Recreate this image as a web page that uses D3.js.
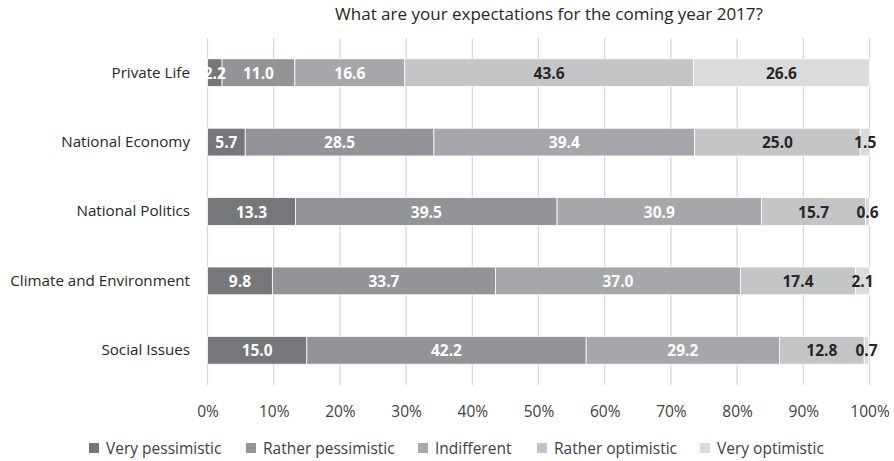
<!DOCTYPE html>
<html>
<head>
<meta charset="utf-8">
<script src="https://cdn.jsdelivr.net/npm/d3@7"></script>
<style>
  body { margin: 0; background: #fff; }
  svg { font-family: "Open Sans", sans-serif; }
</style>
</head>
<body>
<svg width="894" height="461"></svg>
<script>
const categories = ['Private Life', 'National Economy', 'National Politics', 'Climate and Environment', 'Social Issues']
const seriesNames = ['Very pessimistic', 'Rather pessimistic', 'Indifferent', 'Rather optimistic', 'Very optimistic']
const veryPessimistic = [2.2, 5.7, 13.3, 9.8, 15.0]
const ratherPessimistic = [11.0, 28.5, 39.5, 33.7, 42.2]
const indifferent = [16.6, 39.4, 30.9, 37.0, 29.2]
const ratherOptimistic = [43.6, 25.0, 15.7, 17.4, 12.8]
const veryOptimistic = [26.6, 1.5, 0.6, 2.1, 0.7]
const xTicks = [0, 10, 20, 30, 40, 50, 60, 70, 80, 90, 100]

const colors = ['#76777a', '#939497', '#a6a7aa', '#c4c5c7', '#dadbdd']
const labelColors = ['#fff', '#fff', '#fff', '#262626', '#262626']

let rows = categories.map((c, i) => ({
    category: c,
    'Very pessimistic': veryPessimistic[i],
    'Rather pessimistic': ratherPessimistic[i],
    'Indifferent': indifferent[i],
    'Rather optimistic': ratherOptimistic[i],
    'Very optimistic': veryOptimistic[i]
}))

let stacked = d3.stack().keys(seriesNames)(rows)

let svg = d3.select('svg')

let x = d3.scaleLinear().domain([0, 100]).range([207.5, 869.5])
let y = d3.scaleBand().domain(categories).range([38, 385]).paddingInner(0.6).paddingOuter(0.3)

// title
svg.append('text')
.attr('x', 549)
.attr('y', 15)
.attr('text-anchor', 'middle')
.attr('dominant-baseline', 'middle')
.style('font-size', '17px')
.style('fill', '#262626')
.text('What are your expectations for the coming year 2017?')

// gridlines
svg.append('g')
.selectAll('line')
.data(xTicks)
.enter()
.append('line')
.attr('x1', d => x(d))
.attr('x2', d => x(d))
.attr('y1', 38)
.attr('y2', 385)
.attr('stroke', '#d9d9d9')
.attr('stroke-width', 1.3)

// x tick labels
let xAxis = svg.append('g')
.attr('transform', 'translate(0,385)')
.call(d3.axisBottom(x).tickValues(xTicks).tickFormat(d => d + '%').tickSize(0).tickPadding(21))
xAxis.select('.domain').remove()
xAxis.selectAll('text')
.style('font-size', '15.5px')
.style('font-family', '"Open Sans", sans-serif')
.attr('fill', '#404040')

// category labels
let yAxis = svg.append('g')
.attr('transform', 'translate(190,0)')
.call(d3.axisLeft(y).tickSize(0).tickPadding(0))
yAxis.select('.domain').remove()
yAxis.selectAll('text')
.style('font-size', '15.2px')
.style('font-family', '"Open Sans", sans-serif')
.attr('fill', '#262626')

// bars
let layers = svg.append('g')
.selectAll('g')
.data(stacked)
.enter()
.append('g')
.attr('fill', (d, i) => colors[i])

layers.selectAll('rect')
.data(d => d)
.enter()
.append('rect')
.attr('x', d => x(d[0]))
.attr('y', d => y(d.data.category))
.attr('width', d => x(d[1]) - x(d[0]))
.attr('height', y.bandwidth())
.attr('stroke', '#fff')
.attr('stroke-width', 0.8)

// value labels
let labelLayers = svg.append('g')
.selectAll('g')
.data(stacked)
.enter()
.append('g')
.attr('fill', (d, i) => labelColors[i])

labelLayers.selectAll('text')
.data(d => d)
.enter()
.append('text')
.attr('x', d => x((d[0] + d[1]) / 2))
.attr('y', d => y(d.data.category) + y.bandwidth() / 2)
.attr('text-anchor', 'middle')
.attr('dominant-baseline', 'central')
.attr('font-weight', 'bold')
.style('font-size', '15.5px')
.text(d => (d[1] - d[0]).toFixed(1))

// legend
let legendX = [89, 246, 418, 537, 700]
let legend = svg.append('g')
.selectAll('g')
.data(seriesNames)
.enter()
.append('g')
.attr('transform', (d, i) => `translate(${legendX[i]},448)`)

legend.append('rect')
.attr('x', 0)
.attr('y', -5)
.attr('width', 10)
.attr('height', 10)
.attr('fill', (d, i) => colors[i])

legend.append('text')
.attr('x', 17)
.attr('y', 0)
.attr('dominant-baseline', 'central')
.style('font-size', '15.5px')
.attr('fill', '#404040')
.text(d => d)
</script>
</body>
</html>
